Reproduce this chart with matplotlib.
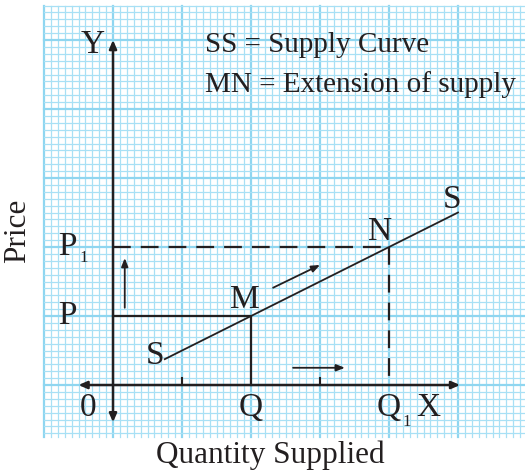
import numpy as np
import matplotlib.pyplot as plt

plt.rcParams["font.family"] = ["Liberation Serif", "DejaVu Serif"]

INK = "#231f20"

# supply curve SS (price = 0.5 * quantity)
supply_q = [0.75, 5.0]
supply_p = [0.375, 2.5]

# points M and N on the curve
point_names = ["M", "N"]
point_q = [2, 4]
point_p = [1, 2]
price_labels = ["P", "P"]
qty_labels = ["Q", "Q"]
subscripts = ["", "1"]
tick_q = [1, 3]

legend_lines = ["SS = Supply Curve", "MN = Extension of supply"]

fig = plt.figure(figsize=(5.25, 4.71), dpi=100)
ax = fig.add_axes([0, 0, 1, 1])
ax.set_xlim(-1.638, 5.971)
ax.set_ylim(-1.246, 5.580)
ax.axis("off")

# graph paper
gx0, gx1, gy0, gy1 = -1.0, 5.95, -0.75, 5.5
for v in np.arange(-1.0, 5.96, 0.1):
    major = abs(v - round(v)) < 1e-6
    ax.plot([v, v], [gy0, gy1], color="#8fd6f0" if major else "#a8e0f5",
            lw=1.6 if major else 0.9, zorder=0)
for v in np.arange(-0.7, 5.51, 0.1):
    major = abs(v - round(v)) < 1e-6
    ax.plot([gx0, gx1], [v, v], color="#8fd6f0" if major else "#a8e0f5",
            lw=1.6 if major else 0.9, zorder=0)

# axes with arrows
arr = dict(arrowstyle="-|>,head_length=0.5,head_width=0.22", color=INK, lw=1.8,
           shrinkA=0, shrinkB=0)
ax.annotate("", xy=(0, 5.0), xytext=(0, 0), arrowprops=arr)
ax.annotate("", xy=(0, -0.54), xytext=(0, 0), arrowprops=arr)
ax.annotate("", xy=(5.03, 0), xytext=(0, 0), arrowprops=arr)
ax.annotate("", xy=(-0.5, 0), xytext=(0, 0), arrowprops=arr)
for t in tick_q:
    ax.plot([t, t], [0, 0.1], color=INK, lw=1.5)

# supply curve
ax.plot(supply_q, supply_p, color=INK, lw=1.3)

# P-M and M-Q solid, P1-N and N-Q1 dashed
ax.plot([0, point_q[0], point_q[0]], [point_p[0], point_p[0], 0], color=INK, lw=1.6)
ax.plot([0, point_q[1]], [point_p[1], point_p[1]], color=INK, lw=1.6,
        linestyle=(0, (8, 4.5)))
ax.plot([point_q[1], point_q[1]], [point_p[1], 0], color=INK, lw=1.6,
        linestyle=(0, (8, 4.5)))

# direction arrows
small = dict(arrowstyle="-|>,head_length=0.5,head_width=0.2", color=INK, lw=1.3,
             shrinkA=0, shrinkB=0)
ax.annotate("", xy=(0.17, 1.84), xytext=(0.17, 1.12), arrowprops=small)
ax.annotate("", xy=(3.0, 1.74), xytext=(2.32, 1.41), arrowprops=small)
ax.annotate("", xy=(3.36, 0.25), xytext=(2.61, 0.25), arrowprops=small)

fs = 24
ax.text(-0.29, 4.93, "Y", fontsize=fs, color=INK, ha="center", va="center")
ax.text(4.57, -0.33, "X", fontsize=fs, color=INK, ha="center", va="center")
ax.text(-0.36, -0.33, "0", fontsize=fs, color=INK, ha="center", va="center")
for q, lab, sub in zip(point_q, qty_labels, subscripts):
    ax.text(q, -0.33, lab, fontsize=fs, color=INK, ha="center", va="center")
    if sub:
        ax.text(q + 0.25, -0.53, sub, fontsize=12, color=INK, ha="center", va="center")
for p, lab, sub in zip(point_p, price_labels, subscripts):
    ax.text(-0.8, p, lab, fontsize=fs, color=INK, ha="left", va="center")
    if sub:
        ax.text(-0.42, p - 0.16, sub, fontsize=12, color=INK, ha="center", va="center")
ax.text(1.91, 1.23, point_names[0], fontsize=fs, color=INK, ha="center", va="center")
ax.text(3.87, 2.22, point_names[1], fontsize=fs, color=INK, ha="center", va="center")
ax.text(4.91, 2.68, "S", fontsize=fs, color=INK, ha="center", va="center")
ax.text(0.61, 0.43, "S", fontsize=fs, color=INK, ha="center", va="center")

ax.text(1.33, 4.93, legend_lines[0], fontsize=21, color=INK, ha="left", va="center")
ax.text(1.33, 4.35, legend_lines[1], fontsize=21, color=INK, ha="left", va="center")

fig.text(18 / 525, 1 - 231 / 471, "Price", fontsize=22.5, color=INK, rotation=90,
         ha="center", va="center")
fig.text(270 / 525, 1 - 455 / 471, "Quantity Supplied", fontsize=22.5, color=INK,
         ha="center", va="center")

fig.savefig("out.png", dpi=100)
